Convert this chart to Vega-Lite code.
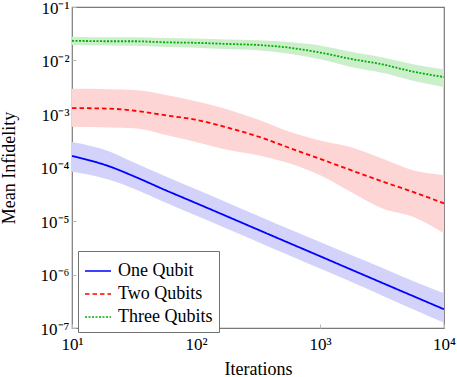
{
  "$schema": "https://vega.github.io/schema/vega-lite/v6.json",
  "width": 372,
  "height": 321,
  "autosize": {"type": "none"},
  "padding": {"left": 72, "top": 7, "right": 13, "bottom": 49},
  "background": "white",
  "config": {
    "view": {"stroke": "#7a7a7a", "strokeWidth": 1.2},
    "font": "Liberation Serif",
    "axis": {
      "grid": false,
      "domain": false,
      "labelFont": "Liberation Serif",
      "labelFontSize": 17,
      "labelColor": "black",
      "titleFont": "Liberation Serif",
      "titleFontSize": 18,
      "titleFontWeight": "normal",
      "titleColor": "black",
      "tickColor": "#b8b8b8",
      "tickSize": -4,
      "labelFlush": false,
      "labelOverlap": false
    }
  },
  "data": {
    "values": [
      {"series": "One Qubit", "it": 10, "mean": 1.64e-4, "lo": 8.3e-5, "hi": 3.0e-4},
      {"series": "One Qubit", "it": 20, "mean": 1.05e-4, "lo": 5.9e-5, "hi": 2.0e-4},
      {"series": "One Qubit", "it": 32, "mean": 6.76e-5, "lo": 3.98e-5, "hi": 1.23e-4},
      {"series": "One Qubit", "it": 56, "mean": 3.82e-5, "lo": 2.25e-5, "hi": 6.95e-5},
      {"series": "One Qubit", "it": 100, "mean": 2.16e-5, "lo": 1.27e-5, "hi": 3.93e-5},
      {"series": "One Qubit", "it": 178, "mean": 1.22e-5, "lo": 7.18e-6, "hi": 2.22e-5},
      {"series": "One Qubit", "it": 316, "mean": 6.89e-6, "lo": 4.06e-6, "hi": 1.25e-5},
      {"series": "One Qubit", "it": 562, "mean": 3.89e-6, "lo": 2.29e-6, "hi": 7.08e-6},
      {"series": "One Qubit", "it": 1000, "mean": 2.2e-6, "lo": 1.29e-6, "hi": 4.07e-6},
      {"series": "One Qubit", "it": 1778, "mean": 1.24e-6, "lo": 7.31e-7, "hi": 2.31e-6},
      {"series": "One Qubit", "it": 3162, "mean": 7.0e-7, "lo": 4.04e-7, "hi": 1.34e-6},
      {"series": "One Qubit", "it": 5623, "mean": 3.96e-7, "lo": 2.23e-7, "hi": 7.55e-7},
      {"series": "One Qubit", "it": 10000, "mean": 2.24e-7, "lo": 1.26e-7, "hi": 4.47e-7},
      {"series": "Two Qubits", "it": 10, "mean": 1.29e-3, "lo": 5.8e-4, "hi": 2.95e-3},
      {"series": "Two Qubits", "it": 20, "mean": 1.26e-3, "lo": 5.6e-4, "hi": 2.9e-3},
      {"series": "Two Qubits", "it": 32, "mean": 1.15e-3, "lo": 5.4e-4, "hi": 2.8e-3},
      {"series": "Two Qubits", "it": 56, "mean": 9.5e-4, "lo": 4.1e-4, "hi": 2.3e-3},
      {"series": "Two Qubits", "it": 100, "mean": 7.8e-4, "lo": 3.0e-4, "hi": 1.74e-3},
      {"series": "Two Qubits", "it": 178, "mean": 5.6e-4, "lo": 2.14e-4, "hi": 1.23e-3},
      {"series": "Two Qubits", "it": 316, "mean": 3.8e-4, "lo": 1.7e-4, "hi": 7.9e-4},
      {"series": "Two Qubits", "it": 562, "mean": 2.34e-4, "lo": 1.2e-4, "hi": 4.7e-4},
      {"series": "Two Qubits", "it": 1000, "mean": 1.45e-4, "lo": 7.2e-5, "hi": 3.2e-4},
      {"series": "Two Qubits", "it": 1778, "mean": 8.9e-5, "lo": 3.5e-5, "hi": 2.4e-4},
      {"series": "Two Qubits", "it": 3162, "mean": 5.5e-5, "lo": 1.74e-5, "hi": 1.48e-4},
      {"series": "Two Qubits", "it": 5623, "mean": 3.5e-5, "lo": 1.2e-5, "hi": 8.9e-5},
      {"series": "Two Qubits", "it": 10000, "mean": 2.14e-5, "lo": 5.9e-6, "hi": 7.2e-5},
      {"series": "Three Qubits", "it": 10, "mean": 2.34e-2, "lo": 1.95e-2, "hi": 2.79e-2},
      {"series": "Three Qubits", "it": 20, "mean": 2.29e-2, "lo": 1.91e-2, "hi": 2.72e-2},
      {"series": "Three Qubits", "it": 32, "mean": 2.29e-2, "lo": 1.88e-2, "hi": 2.72e-2},
      {"series": "Three Qubits", "it": 56, "mean": 2.19e-2, "lo": 1.78e-2, "hi": 2.63e-2},
      {"series": "Three Qubits", "it": 100, "mean": 2.14e-2, "lo": 1.74e-2, "hi": 2.57e-2},
      {"series": "Three Qubits", "it": 178, "mean": 2.04e-2, "lo": 1.64e-2, "hi": 2.48e-2},
      {"series": "Three Qubits", "it": 316, "mean": 1.95e-2, "lo": 1.55e-2, "hi": 2.40e-2},
      {"series": "Three Qubits", "it": 562, "mean": 1.74e-2, "lo": 1.33e-2, "hi": 2.21e-2},
      {"series": "Three Qubits", "it": 1000, "mean": 1.41e-2, "lo": 1.05e-2, "hi": 1.91e-2},
      {"series": "Three Qubits", "it": 1778, "mean": 1.07e-2, "lo": 7.6e-3, "hi": 1.45e-2},
      {"series": "Three Qubits", "it": 3162, "mean": 8.5e-3, "lo": 5.9e-3, "hi": 1.15e-2},
      {"series": "Three Qubits", "it": 5623, "mean": 6.2e-3, "lo": 4.2e-3, "hi": 8.5e-3},
      {"series": "Three Qubits", "it": 10000, "mean": 4.9e-3, "lo": 3.2e-3, "hi": 6.8e-3}
    ]
  },
  "encoding": {
    "x": {
      "field": "it",
      "type": "quantitative",
      "scale": {"type": "log", "domain": [10, 10000], "nice": false},
      "axis": {
        "title": "Iterations",
        "values": [10, 100, 1000, 10000],
        "labelExpr": "'10' + substring('⁰¹²³⁴⁵⁶⁷⁸⁹', round(log(datum.value)/LN10), round(log(datum.value)/LN10) + 1)",
        "labelPadding": 12,
        "titleBaseline": "alphabetic",
        "titleY": 46
      }
    }
  },
  "layer": [
    {
      "transform": [{"filter": "datum.series == 'One Qubit'"}],
      "mark": {"type": "area", "fill": "#d2d2fa", "opacity": 1, "interpolate": "monotone"},
      "encoding": {
        "y": {
          "field": "lo",
          "type": "quantitative",
          "scale": {"type": "log", "domain": [1e-7, 1e-1], "nice": false},
          "axis": {
            "title": "Mean Infidelity",
            "values": [1e-7, 1e-6, 1e-5, 1e-4, 1e-3, 1e-2, 1e-1],
            "labelExpr": "'10⁻' + substring('⁰¹²³⁴⁵⁶⁷⁸⁹', -round(log(datum.value)/LN10), -round(log(datum.value)/LN10) + 1)",
            "labelPadding": 7,
            "labelOffset": 1,
            "titleX": -54
          }
        },
        "y2": {"field": "hi"}
      }
    },
    {
      "transform": [{"filter": "datum.series == 'Two Qubits'"}],
      "mark": {"type": "area", "fill": "#fdd5d5", "opacity": 1, "interpolate": "monotone"},
      "encoding": {
        "y": {"field": "lo", "type": "quantitative"},
        "y2": {"field": "hi"}
      }
    },
    {
      "transform": [{"filter": "datum.series == 'Three Qubits'"}],
      "mark": {"type": "area", "fill": "#cbefcb", "opacity": 1, "interpolate": "monotone"},
      "encoding": {
        "y": {"field": "lo", "type": "quantitative"},
        "y2": {"field": "hi"}
      }
    },
    {
      "mark": {"type": "line", "strokeWidth": 1.8, "interpolate": "monotone"},
      "encoding": {
        "y": {"field": "mean", "type": "quantitative"},
        "color": {
          "field": "series",
          "type": "nominal",
          "scale": {"domain": ["One Qubit", "Two Qubits", "Three Qubits"], "range": ["#0000ff", "#ff0000", "#00b000"]},
          "legend": {
            "title": null,
            "orient": "none",
            "legendX": 6,
            "legendY": 244,
            "direction": "vertical",
            "fillColor": "white",
            "strokeColor": "#707070",
            "padding": 6,
            "symbolType": "stroke",
            "symbolSize": 676,
            "symbolStrokeWidth": 1.6,
            "labelFont": "Liberation Serif",
            "labelFontSize": 18,
            "labelColor": "black",
            "labelOffset": 6,
            "rowPadding": 0,
            "cornerRadius": 0
          }
        },
        "strokeDash": {
          "field": "series",
          "type": "nominal",
          "scale": {"domain": ["One Qubit", "Two Qubits", "Three Qubits"], "range": [[1, 0], [4.5, 3], [2, 1.5]]},
          "legend": {
            "title": null,
            "orient": "none",
            "legendX": 6,
            "legendY": 244,
            "direction": "vertical",
            "fillColor": "white",
            "strokeColor": "#707070",
            "padding": 6,
            "symbolType": "stroke",
            "symbolSize": 676,
            "symbolStrokeWidth": 1.6,
            "labelFont": "Liberation Serif",
            "labelFontSize": 18,
            "labelColor": "black",
            "labelOffset": 6,
            "rowPadding": 0,
            "cornerRadius": 0
          }
        }
      }
    }
  ]
}
